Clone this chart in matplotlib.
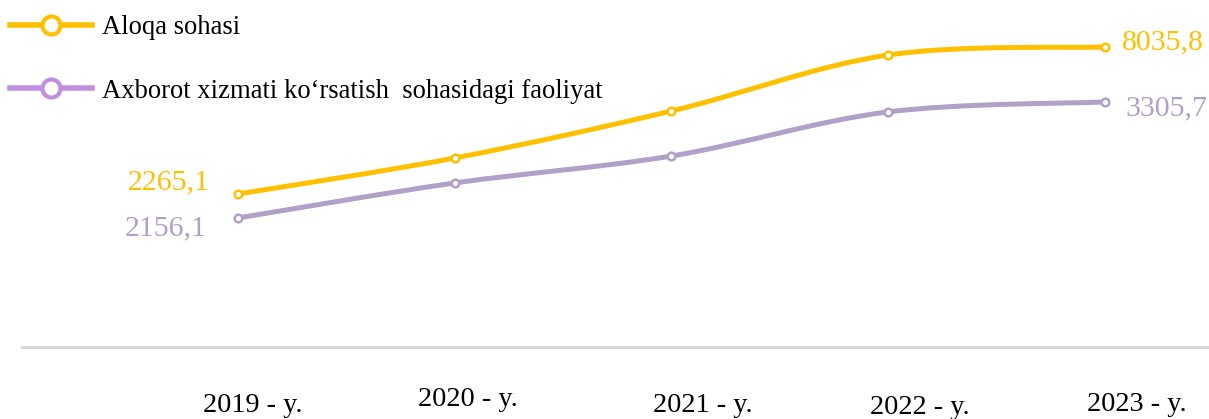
import matplotlib.pyplot as plt
import numpy as np
from matplotlib.path import Path
from matplotlib.patches import PathPatch
from matplotlib.lines import Line2D

years = ['2019 - y.', '2020 - y.', '2021 - y.', '2022 - y.', '2023 - y.']
aloqa = [2265.1, 3678, 5524, 7722, 8035.8]
axborot = [2156.1, 2503, 2770, 3207, 3305.7]
names = ['Aloqa sohasi', 'Axborot xizmati ko\u2018rsatish  sohasidagi faoliyat']

yellow = '#FFC000'
purple = '#B1A0C7'
purple_leg = '#BF8FE0'
serif = 'Liberation Serif'


def smooth_path(x, y):
    # Catmull-Rom style cubic bezier through the points
    x = np.asarray(x, float)
    y = np.asarray(y, float)
    px = np.concatenate([[x[0]], x, [x[-1]]])
    py = np.concatenate([[y[0]], y, [y[-1]]])
    verts = [(x[0], y[0])]
    codes = [Path.MOVETO]
    for i in range(len(x) - 1):
        c1 = (px[i + 1] + (px[i + 2] - px[i]) / 6, py[i + 1] + (py[i + 2] - py[i]) / 6)
        c2 = (px[i + 2] - (px[i + 3] - px[i + 1]) / 6, py[i + 2] - (py[i + 3] - py[i + 1]) / 6)
        verts += [c1, c2, (x[i + 1], y[i + 1])]
        codes += [Path.CURVE4] * 3
    return Path(verts, codes)


fig = plt.figure(figsize=(12.09, 4.19), dpi=100)
ax1 = fig.add_axes([0, 0, 1, 1])
ax2 = ax1.twinx()
x = np.arange(len(years))

for ax in (ax1, ax2):
    ax.set_xlim(-1.098, 4.480)
    ax.axis('off')
ax1.set_ylim(-6568, 9881)
ax2.set_ylim(164, 4316)

ax1.axhline((419 - 347) / 419 * (9881 + 6568) - 6568, xmin=22 / 1209, xmax=1,
            color='#D9D9D9', lw=2.2)

for ax, vals, col in ((ax1, aloqa, yellow), (ax2, axborot, purple)):
    ax.add_patch(PathPatch(smooth_path(x, vals), fill=False, edgecolor=col,
                           lw=3.6, capstyle='round'))
    ax.plot(x, vals, 'o', ms=5.5, mfc='white', mec=col, mew=1.8, zorder=5)

# data labels
lab = dict(textcoords='offset pixels', fontsize=21.5, family=serif, va='center')
ax1.annotate('2265,1', (x[0], aloqa[0]), xytext=(-28, 12), ha='right', color=yellow, **lab)
ax1.annotate('8035,8', (x[-1], aloqa[-1]), xytext=(17, 5), ha='left', color=yellow, **lab)
ax2.annotate('2156,1', (x[0], axborot[0]), xytext=(-31, -10), ha='right', color=purple, **lab)
ax2.annotate('3305,7', (x[-1], axborot[-1]), xytext=(20, -6), ha='left', color=purple, **lab)

# category labels
offs = [405, 399, 405, 407, 404]
dx = [15, 13, 31, 32, 32]
for i, (t, yy) in enumerate(zip(years, offs)):
    ax1.annotate(t, (x[i], 0), xycoords=('data', 'figure pixels'),
                 xytext=(dx[i], 419 - yy), textcoords='offset pixels',
                 ha='center', va='center', fontsize=20.3, family=serif, color='black')

handles = [Line2D([], [], color=yellow, lw=4, marker='o', ms=13, mfc='white',
                  mec=yellow, mew=3),
           Line2D([], [], color=purple_leg, lw=4, marker='o', ms=13, mfc='white',
                  mec=purple_leg, mew=3)]
fig.legend(handles, names, loc='upper left', bbox_to_anchor=(10 / 1209, 404 / 419),
           frameon=False, prop={'family': serif, 'size': 19.2},
           handlelength=3.07, handletextpad=0.37, labelspacing=1.45,
           borderaxespad=0, borderpad=0)

fig.savefig('out.png', dpi=100)
